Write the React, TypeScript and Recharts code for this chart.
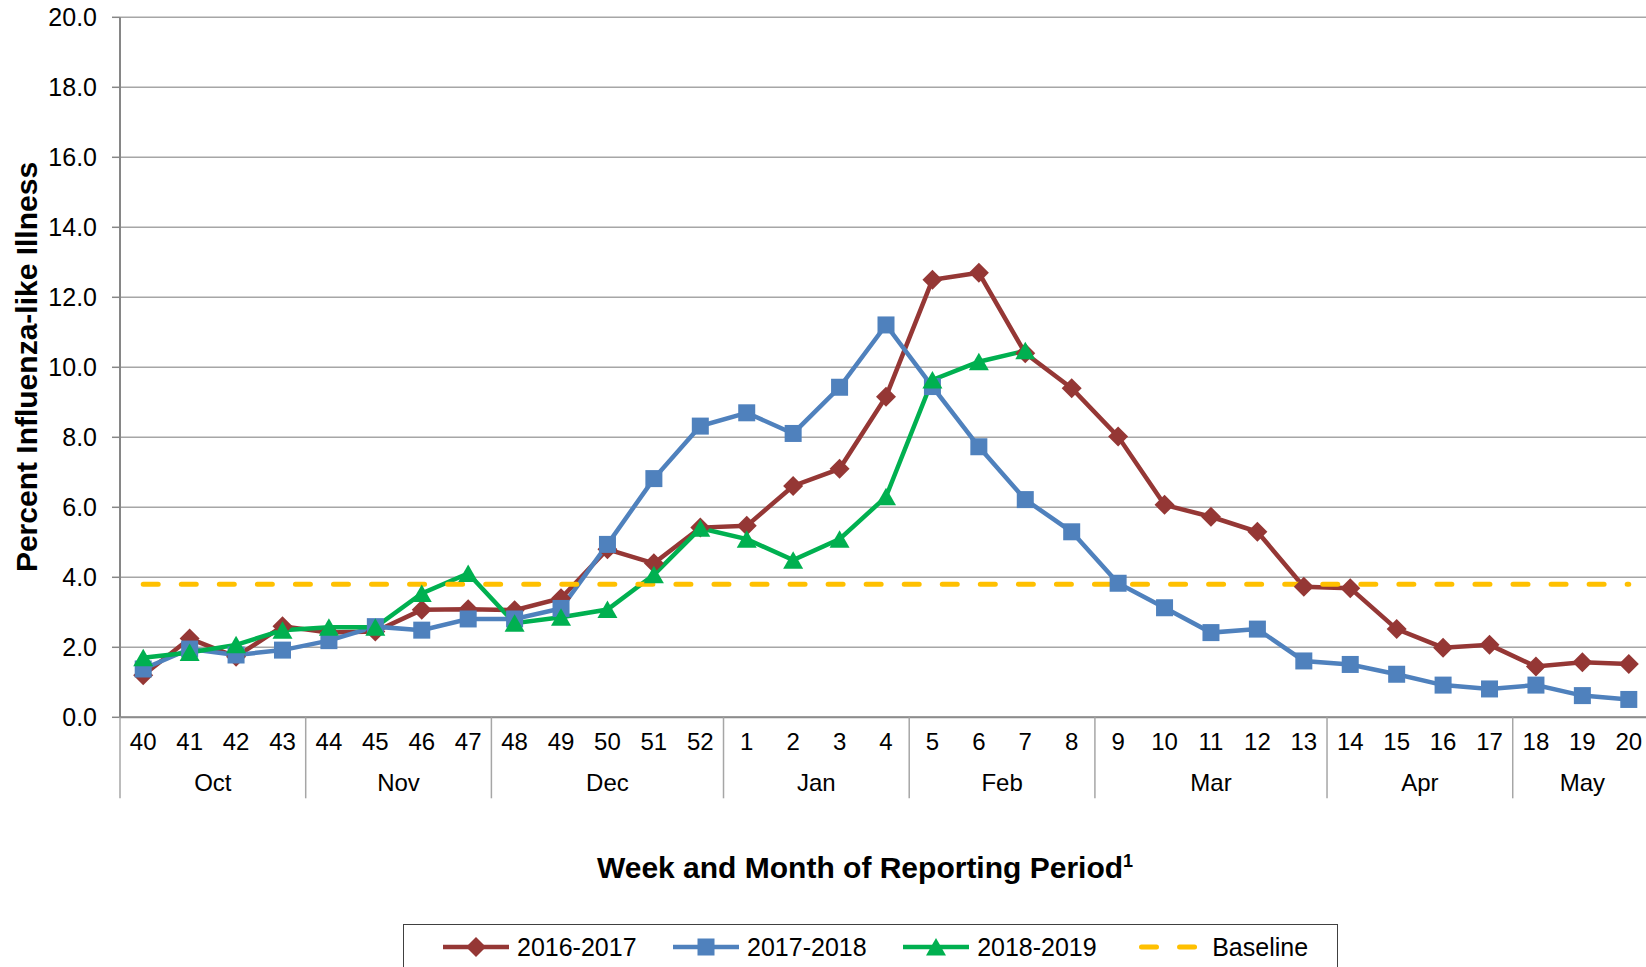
import React from "react";
import { LineChart, Line, XAxis, YAxis, CartesianGrid } from "recharts";

// weekly reporting periods, week 40 through week 20
const weeks = [
  "40", "41", "42", "43", "44", "45", "46", "47", "48", "49", "50", "51", "52",
  "1", "2", "3", "4", "5", "6", "7", "8", "9", "10", "11", "12", "13", "14",
  "15", "16", "17", "18", "19", "20",
];

const monthNames = ["Oct", "Nov", "Dec", "Jan", "Feb", "Mar", "Apr", "May"];
const monthWeekCounts = [4, 4, 5, 4, 4, 5, 4, 3];

const season2016 = [
  1.2, 2.25, 1.73, 2.6, 2.42, 2.45, 3.07, 3.09, 3.06, 3.4, 4.8, 4.4, 5.42,
  5.47, 6.61, 7.1, 9.16, 12.5, 12.7, 10.4, 9.4, 8.02, 6.07, 5.73, 5.3, 3.73,
  3.69, 2.52, 1.99, 2.07, 1.45, 1.57, 1.52,
];
const season2017 = [
  1.38, 1.95, 1.78, 1.92, 2.19, 2.59, 2.49, 2.81, 2.81, 3.11, 4.94, 6.82, 8.32,
  8.7, 8.11, 9.43, 11.21, 9.45, 7.73, 6.22, 5.3, 3.83, 3.13, 2.42, 2.52, 1.61,
  1.51, 1.23, 0.92, 0.81, 0.92, 0.62, 0.51,
];
const season2018 = [
  1.7, 1.85, 2.07, 2.49, 2.57, 2.57, 3.54, 4.11, 2.69, 2.86, 3.08, 4.07, 5.4,
  5.09, 4.49, 5.09, 6.3, 9.64, 10.16, 10.47,
];
const baselineValue = 3.8;

const yTicks = [0, 2, 4, 6, 8, 10, 12, 14, 16, 18, 20];

const seriesNames = ["2016-2017", "2017-2018", "2018-2019", "Baseline"];

const data = weeks.map((week, i) => ({
  week,
  s2016: season2016[i],
  s2017: season2017[i],
  s2018: season2018[i] ?? null,
  baseline: baselineValue,
}));

const FONT = '"Liberation Sans", Arial, sans-serif';
const RED = "#953735";
const BLUE = "#4F81BD";
const GREEN = "#00B050";
const GOLD = "#FFC000";
const GRID = "#A6A6A6";
const AXIS = "#868686";
const DASH = "15 23.05";

const CHART_W = 1660;
const CHART_H = 967;
const MARGIN = { top: 17.3, right: 8, bottom: 159.7, left: 0 };
const YAXIS_W = 120;
const XAXIS_H = 90;
const BAND = (CHART_W - MARGIN.right - MARGIN.left - YAXIS_W) / weeks.length;

// first week index of every month
const monthStarts = monthWeekCounts.map((_, m) =>
  monthWeekCounts.slice(0, m).reduce((a, b) => a + b, 0)
);

type Mark = { cx: number; cy: number; color: string };

const Diamond = ({ cx, cy, color }: Mark) => (
  <polygon
    points={`${cx},${cy - 10} ${cx + 10},${cy} ${cx},${cy + 10} ${cx - 10},${cy}`}
    fill={color}
  />
);
const Square = ({ cx, cy, color }: Mark) => (
  <rect x={cx - 8.5} y={cy - 8.5} width={17} height={17} fill={color} />
);
const Triangle = ({ cx, cy, color }: Mark) => (
  <polygon
    points={`${cx},${cy - 9} ${cx + 10},${cy + 8.5} ${cx - 10},${cy + 8.5}`}
    fill={color}
  />
);

const dotOf =
  (Shape: (p: Mark) => React.ReactElement, color: string) => (props: any) => {
    const { cx, cy, index } = props;
    if (cx == null || cy == null || props.value == null)
      return <g key={`e-${index}`} />;
    return (
      <g key={`m-${index}`}>
        <Shape cx={cx} cy={cy} color={color} />
      </g>
    );
  };

function WeekTick(props: any) {
  const { x, y, payload } = props;
  const i = weeks.indexOf(String(payload.value));
  const m = monthStarts.indexOf(i);
  const left = x - BAND / 2;
  return (
    <g>
      <text x={x} y={y + 33} textAnchor="middle" fontSize={24} fill="#000">
        {payload.value}
      </text>
      {m >= 0 && (
        <g>
          <line x1={left} x2={left} y1={y} y2={y + 81} stroke={GRID} strokeWidth={1.5} />
          <text
            x={left + (monthWeekCounts[m] * BAND) / 2}
            y={y + 74}
            textAnchor="middle"
            fontSize={24}
            fill="#000"
          >
            {monthNames[m]}
          </text>
        </g>
      )}
    </g>
  );
}

const legendIcons = [
  <Diamond cx={33} cy={11} color={RED} />,
  <Square cx={33} cy={11} color={BLUE} />,
  <Triangle cx={33} cy={11} color={GREEN} />,
];
const legendColors = [RED, BLUE, GREEN, GOLD];

function ChartLegend() {
  return (
    <div
      style={{
        position: "absolute",
        left: 403,
        top: 924,
        width: 935,
        height: 46,
        border: "1.5px solid #404040",
        boxSizing: "border-box",
        display: "flex",
        alignItems: "center",
        paddingLeft: 39,
        whiteSpace: "nowrap",
      }}
    >
      {seriesNames.map((name, i) => (
        <div
          key={name}
          style={{
            display: "flex",
            alignItems: "center",
            flexShrink: 0,
            marginRight: 36.5,
            marginLeft: i === 3 ? 6 : 0,
          }}
        >
          <svg width={66} height={22} style={{ flexShrink: 0 }}>
            {i < 3 ? (
              <line x1={0} x2={66} y1={11} y2={11} stroke={legendColors[i]} strokeWidth={4.5} strokeLinecap="round" />
            ) : (
              <line x1={2.5} x2={56} y1={11} y2={11} stroke={GOLD} strokeWidth={5} strokeDasharray={DASH} strokeLinecap="round" />
            )}
            {i < 3 && legendIcons[i]}
          </svg>
          <span style={{ fontSize: 25, lineHeight: "30px", marginLeft: i === 3 ? 7 : 8 }}>{name}</span>
        </div>
      ))}
    </div>
  );
}

export default function App() {
  return (
    <div
      style={{
        position: "absolute",
        left: 0,
        top: 0,
        width: 1646,
        height: 967,
        overflow: "hidden",
        background: "#fff",
        fontFamily: FONT,
        color: "#000",
      }}
    >
      <LineChart width={CHART_W} height={CHART_H} data={data} margin={MARGIN}>
        <CartesianGrid vertical={false} stroke={GRID} strokeWidth={1.5} />
        <XAxis
          dataKey="week"
          scale="band"
          height={XAXIS_H}
          interval={0}
          tickLine={false}
          tickSize={0}
          tickMargin={0}
          axisLine={{ stroke: "#8C8C8C", strokeWidth: 2 }}
          tick={<WeekTick />}
        />
        <YAxis
          width={YAXIS_W}
          domain={[0, 20]}
          ticks={yTicks}
          interval={0}
          tickFormatter={(v: number) => v.toFixed(1)}
          tickSize={8}
          tickMargin={15}
          axisLine={{ stroke: AXIS, strokeWidth: 2 }}
          tickLine={{ stroke: AXIS, strokeWidth: 1.5 }}
          tick={{ fontSize: 25, fill: "#000" }}
        />
        <Line
          dataKey="s2016"
          stroke={RED}
          strokeWidth={4.5}
          dot={dotOf(Diamond, RED)}
          activeDot={false}
          isAnimationActive={false}
        />
        <Line
          dataKey="s2017"
          stroke={BLUE}
          strokeWidth={4.5}
          dot={dotOf(Square, BLUE)}
          activeDot={false}
          isAnimationActive={false}
        />
        <Line
          dataKey="s2018"
          stroke={GREEN}
          strokeWidth={4.5}
          dot={dotOf(Triangle, GREEN)}
          activeDot={false}
          isAnimationActive={false}
        />
        <Line
          dataKey="baseline"
          stroke={GOLD}
          strokeWidth={5}
          strokeDasharray={DASH}
          strokeLinecap="round"
          dot={false}
          activeDot={false}
          isAnimationActive={false}
        />
      </LineChart>

      <div
        style={{
          position: "absolute",
          left: 27,
          top: 367,
          transform: "translate(-50%, -50%) rotate(-90deg)",
          fontSize: 30,
          fontWeight: "bold",
          lineHeight: "30px",
          whiteSpace: "nowrap",
        }}
      >
        Percent Influenza-like Illness
      </div>
      <div
        style={{
          position: "absolute",
          left: 865,
          top: 853,
          transform: "translateX(-50%)",
          fontSize: 30,
          fontWeight: "bold",
          lineHeight: "30px",
          whiteSpace: "nowrap",
        }}
      >
        Week and Month of Reporting Period<sup style={{ fontSize: 18, lineHeight: 0 }}>1</sup>
      </div>
      <ChartLegend />
    </div>
  );
}
